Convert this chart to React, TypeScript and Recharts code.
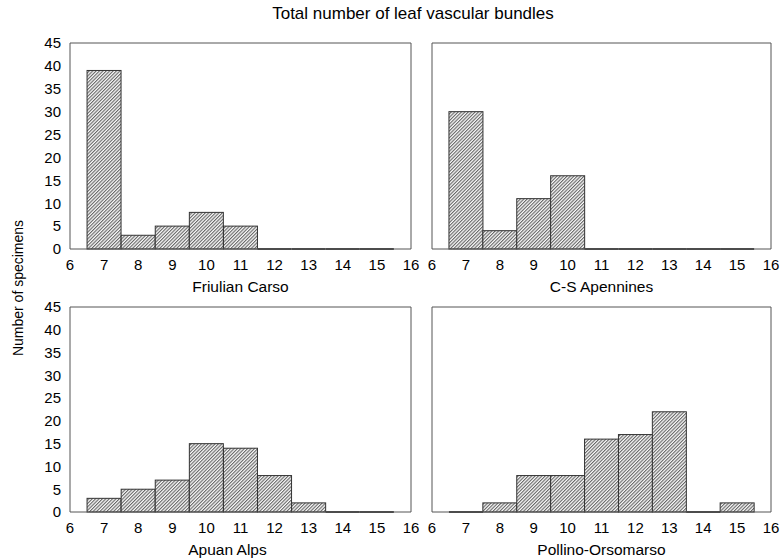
import { BarChart, Bar, XAxis, YAxis } from "recharts";

const bins = [7, 8, 9, 10, 11, 12, 13, 14, 15];
const xTicks = [6, 7, 8, 9, 10, 11, 12, 13, 14, 15, 16];
const yTicks = [0, 5, 10, 15, 20, 25, 30, 35, 40, 45];

const friulianCarso = [39, 3, 5, 8, 5, 0, 0, 0, 0];
const csApennines = [30, 4, 11, 16, 0, 0, 0, 0, 0];
const apuanAlps = [3, 5, 7, 15, 14, 8, 2, 0, 0];
const pollinoOrsomarso = [0, 2, 8, 8, 16, 17, 22, 0, 2];

const FONT = "Liberation Sans, Arial, sans-serif";
const AXIS = "#555";

// histogram bar: hatched rect, or a flat line when the count is 0
const HistBar = (props: any) => {
  const { x, y, width, height } = props;
  if (!height || Math.abs(height) < 0.5) {
    return <line x1={x} x2={x + width} y1={y} y2={y} stroke="#444" strokeWidth={2} />;
  }
  return (
    <rect x={x} y={y} width={width} height={height} fill="url(#hatch)" stroke="#333" strokeWidth={1} />
  );
};

interface PanelProps {
  values: number[];
  name: string;
  left: number;
  top: number;
  width: number;
  height: number;
  margin: { top: number; right: number; left: number; bottom: number };
  xHeight: number;
  showY: boolean;
  labelOffset: number;
  labelDx?: number;
}

const Panel = ({ values, name, left, top, width, height, margin, xHeight, showY, labelOffset, labelDx = 0 }: PanelProps) => {
  const data = bins.map((b, i) => ({ bin: b, count: values[i] }));
  const tickStyle = { fontFamily: FONT, fontSize: 15, fill: "#000" };
  return (
    <div style={{ position: "absolute", left, top }}>
      <BarChart width={width} height={height} data={data} margin={margin} barCategoryGap={0} barGap={0}>
        <XAxis
          xAxisId="bottom"
          dataKey="bin"
          type="number"
          domain={[6, 16]}
          ticks={xTicks}
          interval={0}
          height={xHeight}
          tickSize={0}
          tickMargin={10}
          tick={tickStyle}
          axisLine={{ stroke: AXIS }}
          label={{ value: name, position: "insideBottom", offset: labelOffset, dx: labelDx, style: { fontFamily: FONT, fontSize: 15.5, fill: "#000" } }}
        />
        <XAxis
          xAxisId="top"
          dataKey="bin"
          orientation="top"
          type="number"
          domain={[6, 16]}
          ticks={xTicks}
          height={10}
          mirror
          tick={false}
          tickSize={3}
          axisLine={{ stroke: AXIS }}
          tickLine={{ stroke: AXIS }}
        />
        {showY ? (
          <YAxis
            yAxisId="left"
            domain={[0, 45]}
            ticks={yTicks}
            interval={0}
            width={40}
            tickSize={0}
            tickMargin={9}
            tick={tickStyle}
            axisLine={{ stroke: AXIS }}
          />
        ) : (
          <YAxis
            yAxisId="left"
            domain={[0, 45]}
            ticks={yTicks}
            width={10}
            mirror
            tick={false}
            tickSize={3}
            axisLine={{ stroke: AXIS }}
            tickLine={{ stroke: AXIS }}
          />
        )}
        <YAxis
          yAxisId="right"
          orientation="right"
          domain={[0, 45]}
          ticks={yTicks}
          width={10}
          mirror
          tick={false}
          tickSize={3}
          axisLine={{ stroke: AXIS }}
          tickLine={{ stroke: AXIS }}
        />
        <Bar
          dataKey="count"
          xAxisId="bottom"
          yAxisId="left"
          shape={HistBar}
          isAnimationActive={false}
        />
        <Bar
          dataKey="count"
          xAxisId="top"
          yAxisId="right"
          fill="none"
          shape={() => null}
          legendType="none"
          isAnimationActive={false}
        />
      </BarChart>
    </div>
  );
};

export default function App() {
  const topMargin = { top: 43, right: 9, left: 30, bottom: 0 };
  const topMarginR = { top: 43, right: 11, left: 12, bottom: 0 };
  const botMargin = { top: 12, right: 9, left: 30, bottom: 0 };
  const botMarginR = { top: 12, right: 11, left: 12, bottom: 0 };
  return (
    <div style={{ position: "absolute", left: 0, top: 0, width: 782, height: 559, background: "#fff", overflow: "hidden" }}>
      <svg width={0} height={0} style={{ position: "absolute" }}>
        <defs>
          <pattern id="hatch" patternUnits="userSpaceOnUse" width={2.4} height={2.4} patternTransform="rotate(45)">
            <rect width={2.4} height={2.4} fill="#fafafa" />
            <line x1={0.6} y1={0} x2={0.6} y2={2.4} stroke="#444" strokeWidth={0.9} />
          </pattern>
        </defs>
      </svg>
      <Panel values={friulianCarso} name="Friulian Carso" left={0} top={0} width={420} height={295} margin={topMargin} xHeight={46} showY labelOffset={3} />
      <Panel values={csApennines} name="C-S Apennines" left={420} top={0} width={362} height={295} margin={topMarginR} xHeight={46} showY={false} labelOffset={3} />
      <Panel values={apuanAlps} name="Apuan Alps" left={0} top={295} width={420} height={264} margin={botMargin} xHeight={47} showY labelOffset={4} labelDx={-13} />
      <Panel values={pollinoOrsomarso} name="Pollino-Orsomarso" left={420} top={295} width={362} height={264} margin={botMarginR} xHeight={47} showY={false} labelOffset={4} />
      <svg width={782} height={559} style={{ position: "absolute", left: 0, top: 0, pointerEvents: "none" }}>
        <text x={413} y={19} textAnchor="middle" fontFamily={FONT} fontSize={17} fill="#000">
          Total number of leaf vascular bundles
        </text>
        <text x={23} y={288} textAnchor="middle" fontFamily={FONT} fontSize={14} fill="#000" transform="rotate(-90 23 288)">
          Number of specimens
        </text>
      </svg>
    </div>
  );
}
